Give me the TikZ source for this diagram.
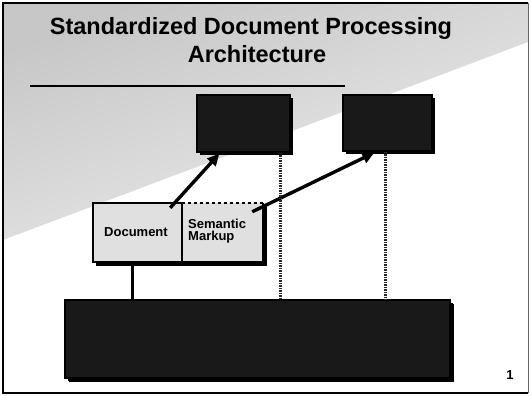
\documentclass[tikz,border=0pt]{standalone}
\usepackage{fontspec}
\setmainfont{Liberation Sans}
\usetikzlibrary{arrows.meta,shadows,calc}

\tikzset{
  slidetitle/.style={font=\fontsize{23.5}{26}\selectfont\bfseries, anchor=base, inner sep=0pt},
  darkbox/.style={draw=black, fill=black!90, line width=1.2pt, inner sep=0pt,
    drop shadow={shadow xshift=3pt, shadow yshift=-3pt, fill=black, opacity=1}},
  lightbox/.style={fill=black!12, inner sep=0pt},
  boxlabel/.style={font=\fontsize{13}{13.5}\selectfont\bfseries, align=left, inner sep=0pt},
  bigarrow/.style={line width=3.4pt, -{Triangle[length=12pt,width=11pt]}},
  dotlink/.style={line width=2.6pt, black!85, dash pattern=on 1.6pt off 0.9pt},
  solidlink/.style={line width=2.4pt}
}

\begin{document}
\begin{tikzpicture}[x=1pt,y=-1pt]
\useasboundingbox (0,0) rectangle (531,396);

% dithered wedge in the upper left of the slide
\shade[shading=axis, top color=black!22, bottom color=black!7, shading angle=20]
  (3,3) -- (528,3) -- (528,42) -- (3,240) -- cycle;

% slide frame
\draw[line width=2.6pt] (3,394) -- (3,3) -- (528,3);
\draw[line width=1.4pt] (3,393) -- (528,393);
\draw[line width=0.6pt, black!60] (528,3) -- (528,393);

% title and rule
\node[slidetitle] (t1) at (251,35) {Standardized Document Processing};
\node[slidetitle] (t2) at (257,63) {Architecture};
\draw[line width=1.8pt] (30,86) -- (345,86);

% upper processing boxes
\node[darkbox, minimum width=93pt, minimum height=57pt] (boxA) at (243.5,123.5) {};
\node[darkbox, minimum width=89pt, minimum height=56pt] (boxB) at (387.5,123) {};

% lower processing box
\node[darkbox, minimum width=385pt, minimum height=78pt,
  drop shadow={shadow xshift=4pt, shadow yshift=-4pt, fill=black, opacity=1}] (base) at (257.5,339) {};

% document and markup pair
\fill[black] (96,262) rectangle (267,266);
\fill[black] (263,207) rectangle (267,266);
\node[lightbox, minimum width=89pt, minimum height=59pt] (doc) at (137.5,232.5) {};
\node[lightbox, minimum width=81pt, minimum height=59pt] (sem) at (222.5,232.5) {};
\draw[line width=1.5pt] (doc.north east) -- (doc.north west) -- (doc.south west) -- (sem.south east) -- (sem.north east);
\draw[line width=1.5pt] (doc.north east) -- (doc.south east);
\draw[line width=1.5pt, dashed] (sem.north west) -- (sem.north east);
\node[boxlabel, anchor=west] (doclabel) at (104,232) {Document};
\node[boxlabel, anchor=west] (semlabel) at (188,231) {Semantic\\[-1pt]Markup};

% connectors
\draw[bigarrow] ($(doc.north east)+(-12,5)$) -- ($(boxA.south west)+(23,1)$);
\draw[bigarrow] ($(sem.north east)+(-11,9)$) -- ($(boxB.south west)+(32,1)$);
\coordinate (aDown) at ($(boxA.south east)+(-10,0)$);
\coordinate (bDown) at ($(boxB.south east)+(-47,0)$);
\coordinate (docDown) at ($(doc.south)+(-5,0)$);
\draw[dotlink] (aDown) -- (aDown |- base.north);
\draw[dotlink] (bDown) -- (bDown |- base.north);
\draw[solidlink] (docDown) -- (docDown |- base.north);

% page number
\node[font=\fontsize{13}{13}\selectfont\bfseries, inner sep=0pt] (pagenum) at (510,375) {1};
\end{tikzpicture}
\end{document}
